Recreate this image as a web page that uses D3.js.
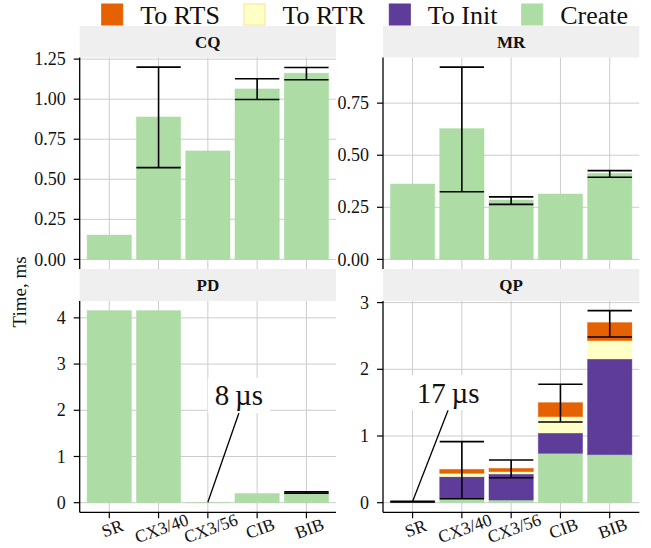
<!DOCTYPE html>
<html><head><meta charset="utf-8">
<script src="https://cdn.jsdelivr.net/npm/d3@7"></script>
<style>body{margin:0;background:#fff}</style>
</head><body>
<svg id="c" width="651" height="548"></svg>
<script>
// ---------------- data ----------------
const categories = ["SR", "CX3/40", "CX3/56", "CIB", "BIB"];
const panelNames = ["CQ", "MR", "PD", "QP"];
const seriesKeys = ["Create", "To Init", "To RTR", "To RTS"];
const legendOrder = ["To RTS", "To RTR", "To Init", "Create"];

const cqCreate = [0.152, 0.889, 0.677, 1.064, 1.162];
const cqErrLo  = [null, 0.573, null, 0.998, 1.121];
const cqErrHi  = [null, 1.200, null, 1.127, 1.198];

const mrCreate = [0.362, 0.628, 0.285, 0.314, 0.413];
const mrErrLo  = [null, 0.325, 0.264, null, 0.394];
const mrErrHi  = [null, 0.923, 0.300, null, 0.426];

const pdCreate = [4.157, 4.157, 0.008, 0.200, 0.222];
const pdErrLo  = [null, null, null, null, 0.207];
const pdErrHi  = [null, null, null, null, 0.237];

const qpCreate = [0.002, 0.070, 0.040, 0.740, 0.720];
const qpToInit = [0.008, 0.320, 0.390, 0.305, 1.435];
const qpToRTR  = [0.003, 0.050, 0.035, 0.245, 0.275];
const qpToRTS  = [0.004, 0.060, 0.050, 0.210, 0.270];
const qpErrLo  = [0.012, 0.060, 0.375, 1.210, 2.485];
const qpErrHi  = [0.022, 0.915, 0.640, 1.776, 2.880];

const cqTicks = [0, 0.25, 0.5, 0.75, 1.0, 1.25];
const mrTicks = [0, 0.25, 0.5, 0.75];
const pdTicks = [0, 1, 2, 3, 4];
const qpTicks = [0, 1, 2, 3];

const annoPanel = ["PD", "QP"];
const annoCat   = ["CX3/56", "SR"];
const annoValue = [0.008, 0.017];
const annoText  = ["8\u2009µs", "17\u2009µs"];

// ---------------- style / layout ----------------
const FONT = "Liberation Serif";
const colors = {"Create": "#addca5", "To Init": "#5e3c99", "To RTR": "#ffffc6", "To RTS": "#e66101"};
const colX = [79.7, 383], panelW = 256.3;
const rowGeo = [{top: 57.5, bottom: 269, stripTop: 26}, {top: 301, bottom: 512.3, stripTop: 269}];
const annoLayout = {PD: {shift: 0.63, labelY: 2.32}, QP: {shift: 0.72, labelY: 1.65}};
const zeros = categories.map(() => 0);

const panels = [
  {name: "CQ", col: 0, row: 0, create: cqCreate, init: zeros, rtr: zeros, rts: zeros, lo: cqErrLo, hi: cqErrHi, ticks: cqTicks, fmt: d3.format(".2f")},
  {name: "MR", col: 1, row: 0, create: mrCreate, init: zeros, rtr: zeros, rts: zeros, lo: mrErrLo, hi: mrErrHi, ticks: mrTicks, fmt: d3.format(".2f")},
  {name: "PD", col: 0, row: 1, create: pdCreate, init: zeros, rtr: zeros, rts: zeros, lo: pdErrLo, hi: pdErrHi, ticks: pdTicks, fmt: d3.format("d")},
  {name: "QP", col: 1, row: 1, create: qpCreate, init: qpToInit, rtr: qpToRTR, rts: qpToRTS, lo: qpErrLo, hi: qpErrHi, ticks: qpTicks, fmt: d3.format("d")}
];

const svg = d3.select("#c");
function txt(sel) { return sel.append("text").attr("font-family", FONT).attr("fill", "#111"); }

// legend
const legendKeyX = [101.7, 244, 389.3, 521.7];
legendOrder.forEach((k, i) => {
  svg.append("rect").attr("x", legendKeyX[i]).attr("y", 4).attr("width", 21).attr("height", 21)
    .attr("fill", colors[k]).attr("stroke", k === "To RTR" ? "#f6e39a" : colors[k]).attr("stroke-width", 1);
  txt(svg).attr("x", legendKeyX[i] + 38.5).attr("y", 24).attr("font-size", 26).text(k);
});

// y axis title
txt(svg).attr("transform", "translate(26,292) rotate(-90)")
  .attr("text-anchor", "middle").attr("font-size", 19).text("Time, ms");

panels.forEach(p => {
  const x0 = colX[p.col], g = rowGeo[p.row];
  const x = d3.scaleBand().domain(categories).range([x0, x0 + panelW]).paddingInner(0.1).paddingOuter(0.15);
  const rows = categories.map((c, i) => ({cat: c, "Create": p.create[i], "To Init": p.init[i], "To RTR": p.rtr[i], "To RTS": p.rts[i], lo: p.lo[i], hi: p.hi[i]}));
  const stack = d3.stack().keys(seriesKeys)(rows);
  const maxV = d3.max(rows, r => Math.max(r["Create"] + r["To Init"] + r["To RTR"] + r["To RTS"], r.hi == null ? 0 : r.hi));
  const pad = maxV * 0.05;
  const y = d3.scaleLinear().domain([-pad, maxV + pad]).range([g.bottom, g.top]);
  const pg = svg.append("g");

  // strip
  pg.append("rect").attr("x", x0).attr("y", g.stripTop).attr("width", panelW).attr("height", g.top - g.stripTop)
    .attr("fill", "#efefef");
  txt(pg).attr("x", x0 + panelW / 2).attr("y", (g.stripTop + g.top) / 2 + 6)
    .attr("text-anchor", "middle").attr("font-size", 17).attr("font-weight", "bold").text(p.name);

  // grid
  pg.selectAll(".gy").data(p.ticks).enter().append("line")
    .attr("x1", x0).attr("x2", x0 + panelW).attr("y1", d => y(d)).attr("y2", d => y(d))
    .attr("stroke", "#cccccc").attr("stroke-width", 1);
  pg.selectAll(".gx").data(categories).enter().append("line")
    .attr("x1", d => x(d) + x.bandwidth() / 2).attr("x2", d => x(d) + x.bandwidth() / 2)
    .attr("y1", g.top).attr("y2", g.bottom)
    .attr("stroke", "#cccccc").attr("stroke-width", 1);

  // bars
  stack.forEach(s => {
    pg.selectAll(null).data(s.filter(d => d[1] - d[0] > 0)).enter().append("rect")
      .attr("x", d => x(d.data.cat)).attr("width", x.bandwidth())
      .attr("y", d => y(d[1])).attr("height", d => y(d[0]) - y(d[1]))
      .attr("fill", colors[s.key]).attr("stroke", colors[s.key]).attr("stroke-opacity", 0.5).attr("stroke-width", 0.8);
  });

  // error bars
  rows.filter(r => r.lo != null).forEach(r => {
    const cx = x(r.cat) + x.bandwidth() / 2, xl = x(r.cat), xr = x(r.cat) + x.bandwidth();
    pg.append("line").attr("x1", cx).attr("x2", cx).attr("y1", y(r.lo)).attr("y2", y(r.hi)).attr("stroke", "#000").attr("stroke-width", 1.6);
    pg.append("line").attr("x1", xl).attr("x2", xr).attr("y1", y(r.lo)).attr("y2", y(r.lo)).attr("stroke", "#000").attr("stroke-width", 1.6);
    pg.append("line").attr("x1", xl).attr("x2", xr).attr("y1", y(r.hi)).attr("y2", y(r.hi)).attr("stroke", "#000").attr("stroke-width", 1.6);
  });

  // y axis
  pg.append("line").attr("x1", x0).attr("x2", x0).attr("y1", g.top).attr("y2", g.bottom).attr("stroke", "#000").attr("stroke-width", 1.3);
  p.ticks.forEach(t => {
    pg.append("line").attr("x1", x0 - 6).attr("x2", x0).attr("y1", y(t)).attr("y2", y(t)).attr("stroke", "#000").attr("stroke-width", 1.2);
    txt(pg).attr("x", x0 - 14).attr("y", y(t)).attr("dy", "0.34em").attr("text-anchor", "end")
      .attr("font-size", 18).text(p.fmt(t));
  });

  // x axis (bottom row only)
  if (p.row === 1) {
    pg.append("line").attr("x1", x0).attr("x2", x0 + panelW).attr("y1", g.bottom).attr("y2", g.bottom).attr("stroke", "#000").attr("stroke-width", 1.3);
    categories.forEach(c => {
      const cx = x(c) + x.bandwidth() / 2;
      pg.append("line").attr("x1", cx).attr("x2", cx).attr("y1", g.bottom).attr("y2", g.bottom + 6).attr("stroke", "#000").attr("stroke-width", 1.2);
      txt(pg).attr("transform", `translate(${cx + 3},${g.bottom + 16}) rotate(-20)`)
        .attr("text-anchor", "middle").attr("dy", "0.34em").attr("font-size", 17.5).text(c);
    });
  }

  // annotation
  annoPanel.forEach((ap, i) => {
    if (ap !== p.name) return;
    const L = annoLayout[ap];
    const px = x(annoCat[i]) + x.bandwidth() / 2, py = y(annoValue[i]);
    const lx = px + L.shift * x.step(), ly = y(L.labelY);
    const ag = pg.append("g");
    ag.append("line").attr("x1", lx).attr("y1", ly + 17.5).attr("x2", px).attr("y2", py)
      .attr("stroke", "#000").attr("stroke-width", 1.3);
    const box = ag.append("rect").attr("fill", "#fff");
    const t = txt(ag).attr("x", lx).attr("y", ly + 10).attr("text-anchor", "middle")
      .attr("font-size", 29).text(annoText[i]);
    const bb = t.node().getBBox();
    const boxH = 35, boxW = bb.width + 14;
    box.attr("x", lx - boxW / 2).attr("y", ly - boxH / 2).attr("width", boxW).attr("height", boxH);
  });
});
</script>
</body></html>
